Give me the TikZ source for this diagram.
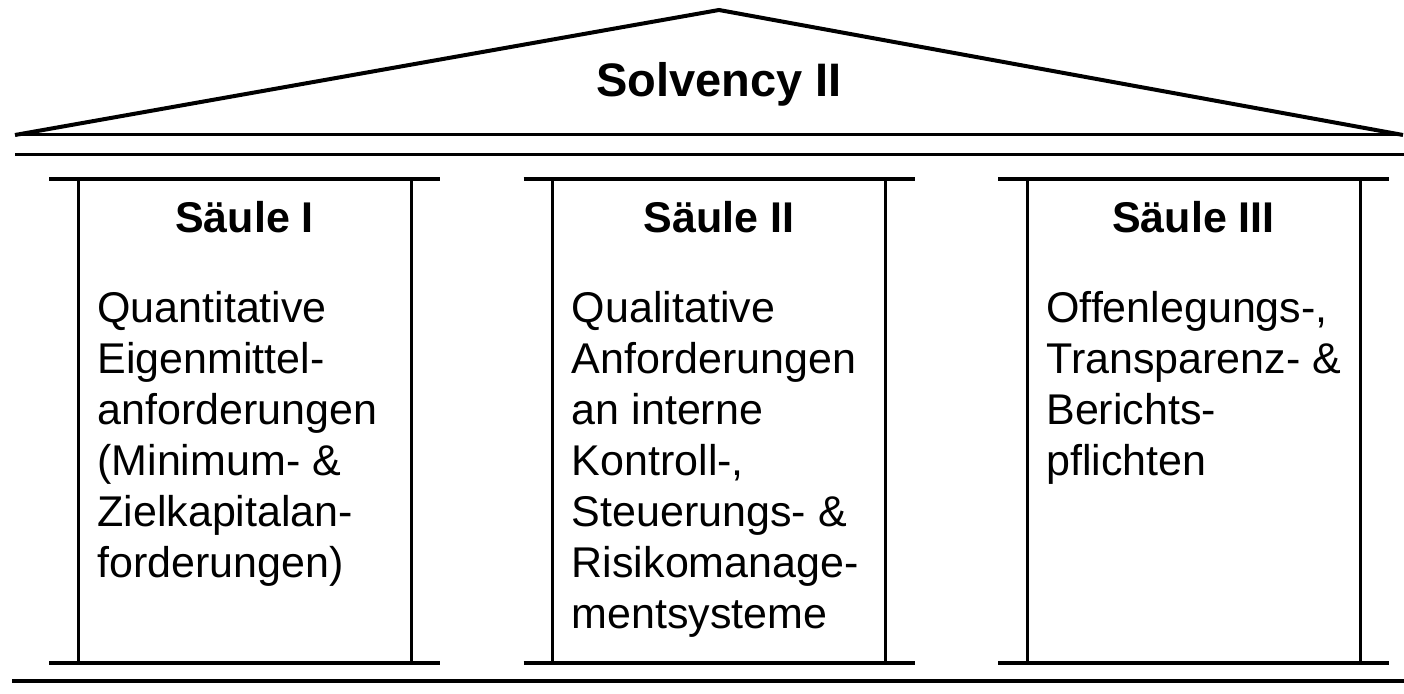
\documentclass[tikz,border=0pt]{standalone}
\usepackage{fontspec}
\setmainfont{Liberation Sans}
\begin{document}
\begin{tikzpicture}[x=0.5pt,y=-0.5pt,
  thinline/.style={line width=1.5pt},
  thickline/.style={line width=2pt},
  head/.style={font=\fontsize{21.5}{25.5}\selectfont\bfseries, inner sep=0pt, anchor=base},
  body/.style={font=\fontsize{21.5}{25.5}\selectfont, inner sep=0pt, anchor=north west, align=left}]
\useasboundingbox (0,0) rectangle (1404,694);
% roof
\coordinate (rl) at (15,135);
\coordinate (ra) at (719,10);
\coordinate (rr) at (1403,135);
\draw[thickline, line join=miter] (rl) -- (ra) -- (rr);
\draw[thinline] (rl) -- (rr);
\draw[thinline] (15,155) -- (1404,155);
\draw[thickline] (12,681) -- (1404,681);
\node[head, font=\fontsize{23.5}{28}\selectfont\bfseries] (title) at (719,97) {Solvency II};
% pillars
\foreach \dx/\n in {0/1, 474.5/2, 949/3}{
  \draw[thickline] (49+\dx,179) -- (440+\dx,179);
  \draw[thickline] (49+\dx,663) -- (440+\dx,663);
  \draw[thinline] (78+\dx,179) -- (78+\dx,663);
  \draw[thinline] (411+\dx,179) -- (411+\dx,663);
}
\node[head] (h1) at (244.5,233) {Säule I};
\node[head] (h2) at (719,233) {Säule II};
\node[head] (h3) at (1193.5,233) {Säule III};
\node[body] (b1) at (97,291) {Quantitative\\Eigenmittel-\\anforderungen\\(Minimum- \&\\Zielkapitalan-\\forderungen)};
\node[body] (b2) at (571.5,291) {Qualitative\\Anforderungen\\an interne\\Kontroll-,\\Steuerungs- \&\\Risikomanage-\\mentsysteme};
\node[body] (b3) at (1046,291) {Offenlegungs-,\\Transparenz- \&\\Berichts-\\pflichten};
\end{tikzpicture}
\end{document}
